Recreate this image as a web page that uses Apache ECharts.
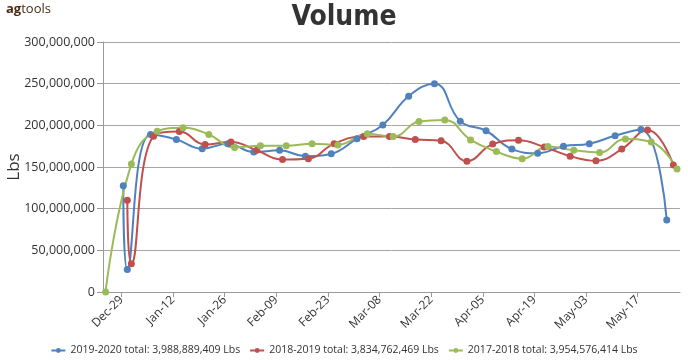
<!DOCTYPE html>
<html>
<head>
<meta charset="utf-8">
<script src="https://cdn.jsdelivr.net/npm/echarts@6/dist/echarts.min.js"></script>
<style>html,body{margin:0;padding:0;background:#fff}#c{width:688px;height:360px}</style>
</head>
<body>
<div id="c"></div>
<script>
// x positions are days relative to Dec-29
const tickDays = [0, 14, 28, 42, 56, 70, 84, 98, 112, 126, 140];
const tickLabels = ['Dec-29','Jan-12','Jan-26','Feb-09','Feb-23','Mar-08','Mar-22','Apr-05','Apr-19','May-03','May-17'];

const seriesNames = [
  '2019-2020 total: 3,988,889,409 Lbs',
  '2018-2019 total: 3,834,762,469 Lbs',
  '2017-2018 total: 3,954,576,414 Lbs'
];

const days2020 = [0.5, 1.6, 7.9, 14.9, 21.9, 28.9, 35.9, 42.9, 49.9, 56.9, 63.9, 70.9, 77.9, 84.9, 91.9, 98.9, 105.9, 112.9, 119.9, 126.9, 133.9, 140.9, 147.9];
const values2020 = [127.5, 27, 189, 183, 172, 178, 168, 170, 163, 166, 184, 200.5, 235, 250, 205, 193.5, 171.5, 166.5, 175, 178, 187.5, 195, 86.5];

const days2019 = [1.6, 2.7, 8.7, 15.7, 22.7, 29.7, 36.7, 43.7, 50.7, 57.7, 65.7, 72.7, 79.7, 86.7, 93.7, 100.7, 107.7, 114.7, 121.7, 128.7, 135.7, 142.7, 149.7];
const values2019 = [110, 34, 187, 192.5, 177, 180, 170, 159, 160, 178, 186.5, 186.5, 183, 181.5, 157, 177.5, 182, 174, 163, 157.5, 171.5, 194.5, 152.5];

const days2018 = [-4.3, 2.7, 9.7, 16.7, 23.7, 30.7, 37.7, 44.7, 51.7, 58.7, 66.7, 73.7, 80.7, 87.7, 94.7, 101.7, 108.7, 115.7, 122.7, 129.7, 136.7, 143.7, 150.7];
const values2018 = [0, 153.5, 193, 197, 189, 173.5, 175.5, 175.5, 178, 176.5, 190, 186.5, 204.5, 206.5, 182.5, 168.5, 160, 174.5, 170, 167.5, 183.5, 180, 147.5];

const colors = ['#4f81bd', '#c0504d', '#9bbb59'];

function pairs(d, v) { return d.map((x, i) => [x, v[i] * 1e6]); }
function fmt(n) { return String(Math.round(n)).replace(/\B(?=(\d{3})+(?!\d))/g, ','); }

const chart = echarts.init(document.getElementById('c'), null, {renderer: 'canvas'});
const mk = (name, d, v, c) => ({
  name, type: 'line', data: pairs(d, v), smooth: 0.45,
  symbol: 'circle', symbolSize: 7, showSymbol: true,
  lineStyle: {width: 2, color: c}, itemStyle: {color: c},
  emphasis: {disabled: true}
});
chart.setOption({
  animation: false,
  color: colors,
  title: {
    text: 'Volume', left: 'center', top: -1,
    textStyle: {fontFamily: 'DejaVu Sans Condensed', fontWeight: 'bold', fontSize: 28, color: '#333'}
  },
  graphic: [{
    type: 'text', left: 6, top: 3,
    style: {
      text: '{a|ag}{b|tools}',
      rich: {
        a: {fontFamily: 'Open Sans', fontWeight: 'bold', fontSize: 13, fill: '#4a2a12'},
        b: {fontFamily: 'Open Sans', fontSize: 13, fill: '#4a2a12'}
      }
    }
  }],
  legend: {
    bottom: -1, left: 'center', itemGap: 9, itemWidth: 14, itemHeight: 6,
    textStyle: {fontFamily: 'Open Sans', fontSize: 10.5, color: '#333'},
    data: seriesNames
  },
  grid: {left: 103, right: 8, top: 42, bottom: 68, containLabel: false, outerBoundsMode: 'none'},
  xAxis: {
    type: 'value', min: -5, max: 151.5,
    splitLine: {show: false},
    axisLine: {show: true, onZero: false, lineStyle: {color: '#999', width: 1}},
    axisTick: {show: true, customValues: tickDays, length: 5, lineStyle: {color: '#999'}},
    axisLabel: {
      customValues: tickDays, rotate: 45, fontFamily: 'Open Sans', fontSize: 12, color: '#333', margin: 6,
      formatter: v => { const i = tickDays.indexOf(v); return i >= 0 ? tickLabels[i] : ''; }
    }
  },
  yAxis: {
    type: 'value', min: 0, max: 300000000, interval: 50000000,
    name: 'Lbs', nameLocation: 'middle', nameGap: 80, nameRotate: 90, nameMoveOverlap: false,
    nameTextStyle: {fontFamily: 'Open Sans', fontSize: 17, color: '#333'},
    axisLine: {show: true, onZero: false, lineStyle: {color: '#999', width: 1}},
    axisTick: {show: true, length: 6, lineStyle: {color: '#999'}},
    splitLine: {lineStyle: {color: '#a6a6a6', width: 1}},
    axisLabel: {fontFamily: 'Open Sans', fontSize: 12.5, color: '#333', margin: 8, formatter: v => fmt(v)}
  },
  series: [
    mk(seriesNames[0], days2020, values2020, colors[0]),
    mk(seriesNames[1], days2019, values2019, colors[1]),
    mk(seriesNames[2], days2018, values2018, colors[2])
  ]
});
</script>
</body>
</html>
